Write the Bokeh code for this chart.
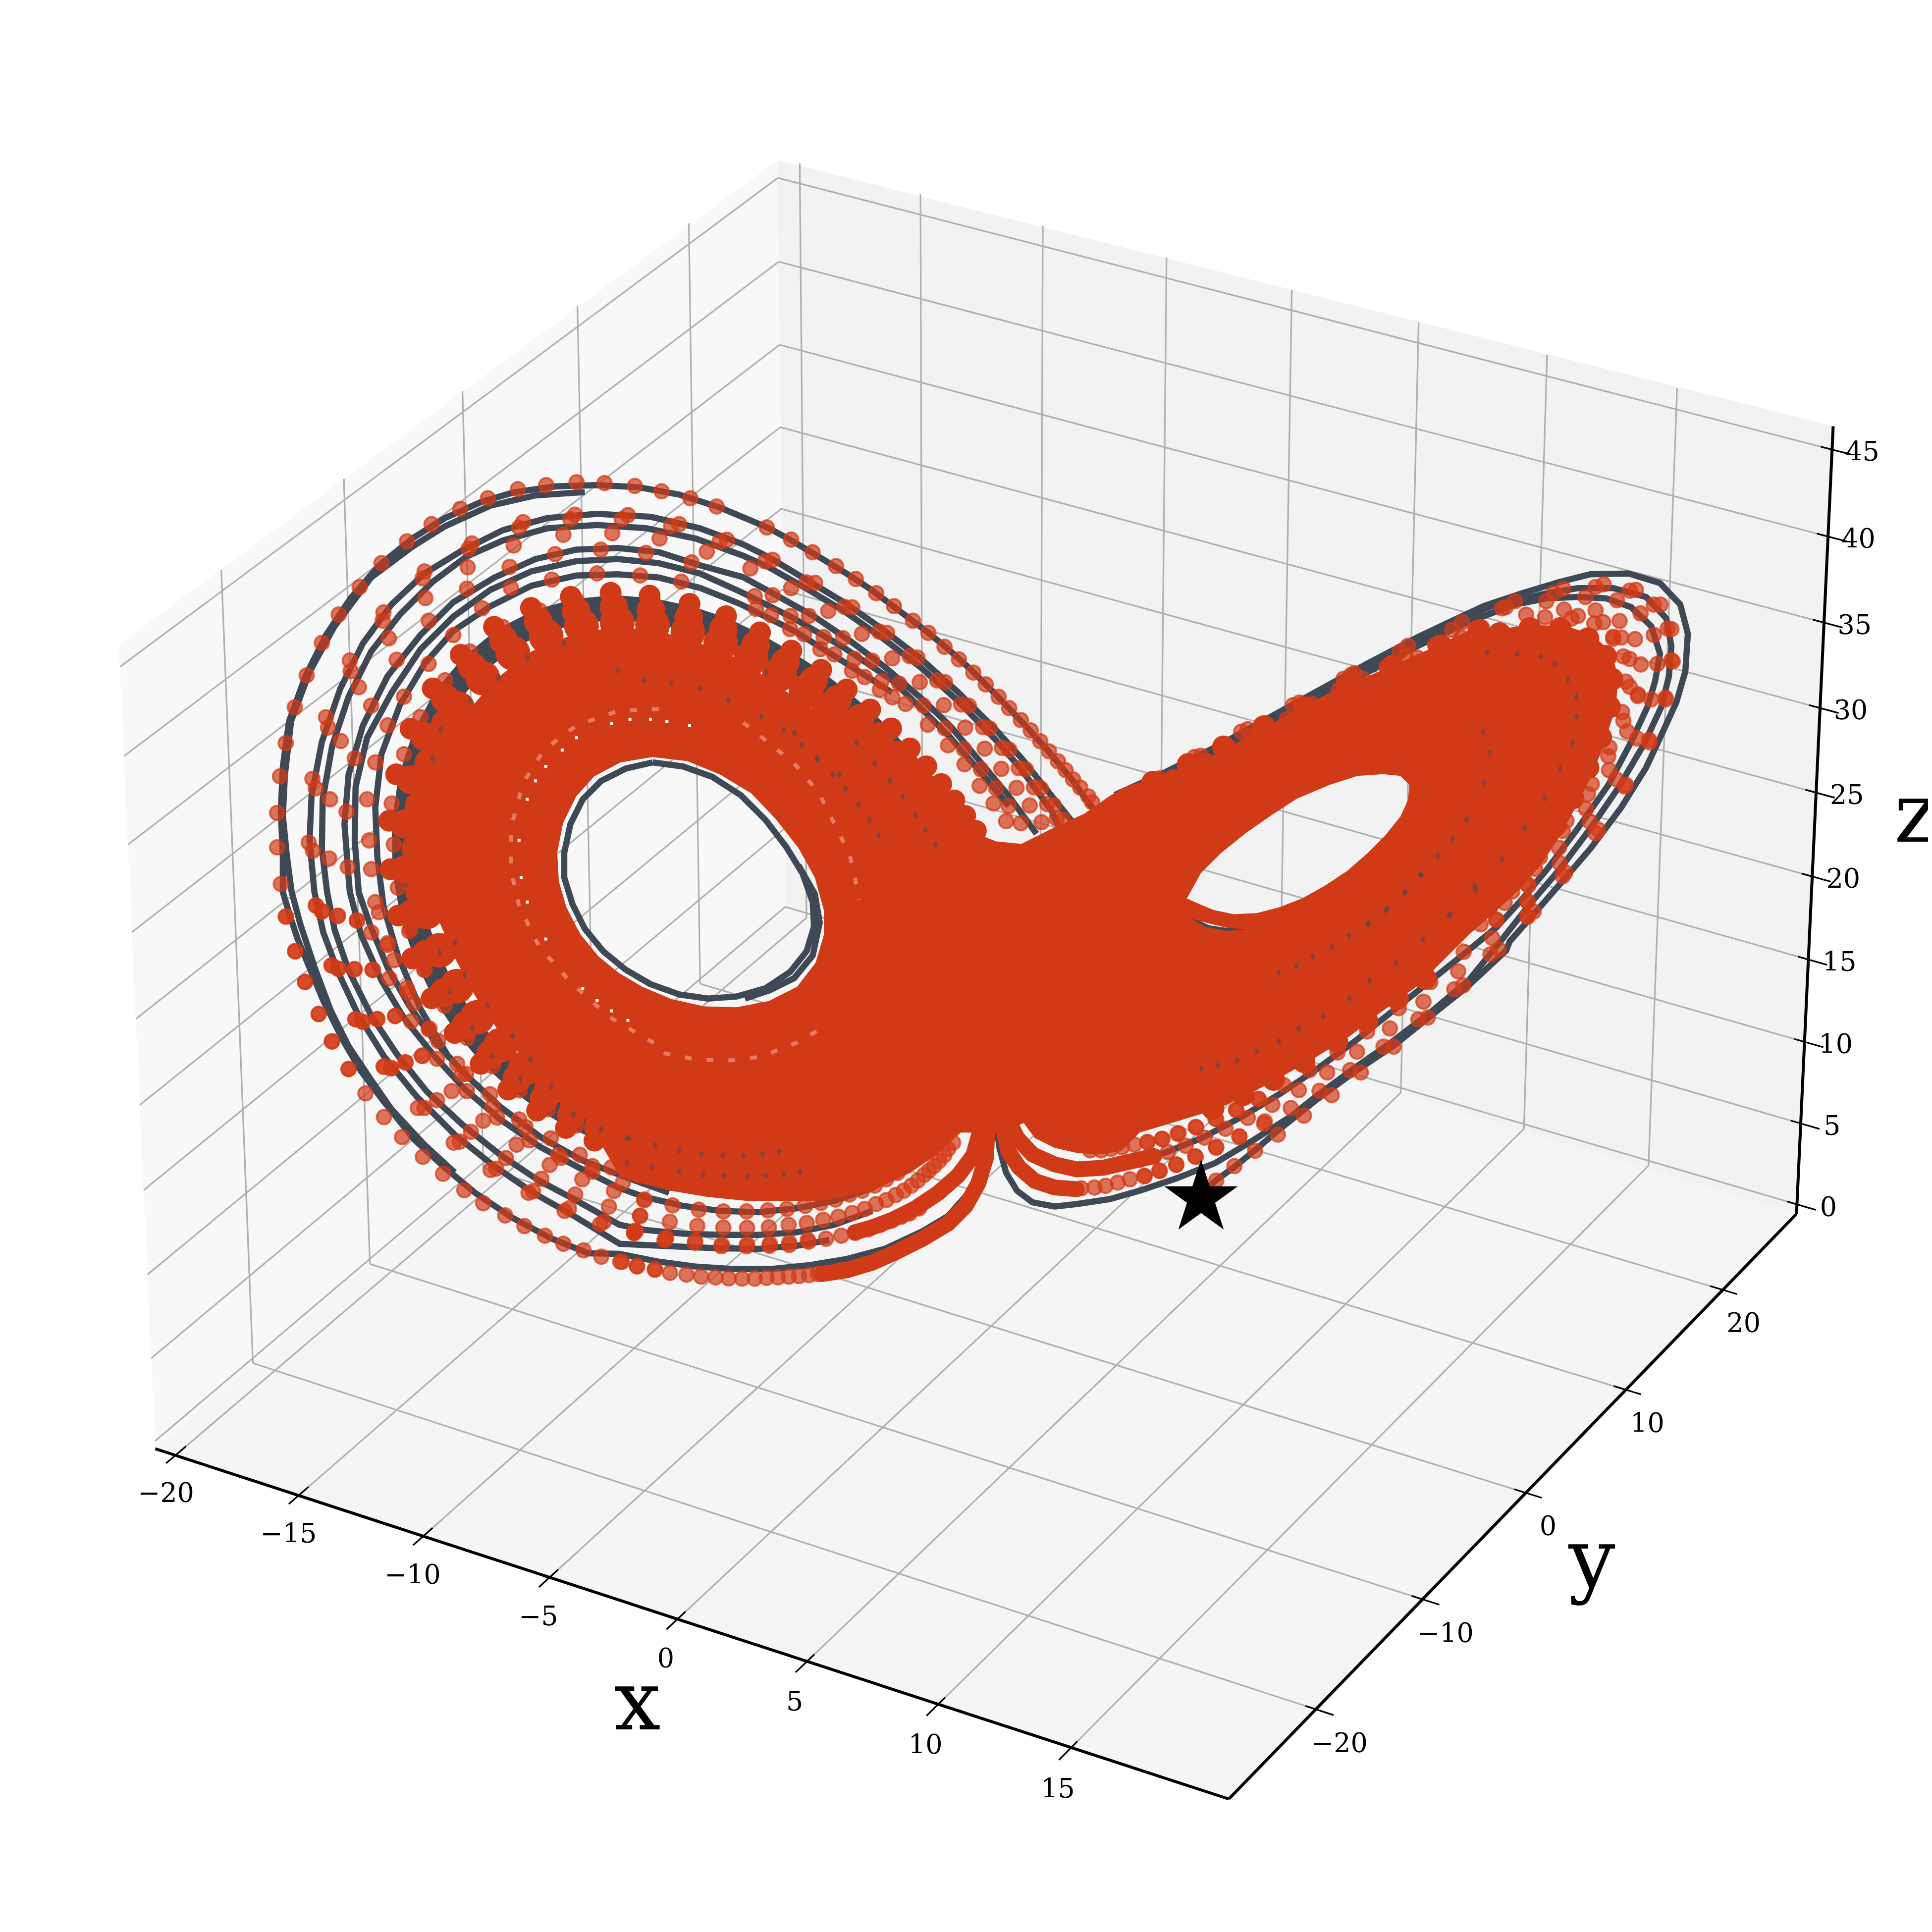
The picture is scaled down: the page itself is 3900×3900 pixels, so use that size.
import numpy as np
from bokeh.plotting import figure
from bokeh.models import Range1d
from bokeh.core.properties import value
from bokeh.embed import file_html
from bokeh.resources import INLINE

# ---- axis content ----
x_ticks = [-20, -15, -10, -5, 0, 5, 10, 15]
y_ticks = [-20, -10, 0, 10, 20]
z_ticks = [0, 5, 10, 15, 20, 25, 30, 35, 40, 45]
x_lim = (-20.92, 20.9)
y_lim = (-28.1, 28.2)
z_lim = (-0.3, 46.2)
axis_titles = ["x", "y", "z"]

# the seven visible corners of the 3D box as seen on the picture: (cube coords) -> (u, v)
box_corners = [((0, 0, 0), (313, 2924)), ((1, 0, 0), (2480, 3631)), ((1, 1, 0), (3626, 2450)),
               ((0, 1, 0), (1586, 1830)), ((0, 0, 1), (239, 1301)), ((0, 1, 1), (1569, 323)),
               ((1, 1, 1), (3700, 860))]

V1 = (500, 900, 1.206, 1.206)
V6 = (1950, 2200, 2.24, 3.0)
V7 = (550, 1800, 1.96, 1.96)
V8 = (1250, 2000, 1.96, 1.96)
V9 = (2700, 1100, 1.96, 1.96)
V10 = (2300, 1750, 1.96, 1.96)
V11 = (1500, 1050, 1.96, 1.96)
V12 = (2250, 1150, 1.96, 1.96)

def pts(view, seq):
    ox, oy, sx, sy = view
    return [(ox + a / sx, oy + b / sy) for a, b in seq]

# dark trajectory, left wing
line_l1 = (pts(V11, [(1420,1180),(1360,1110),(1300,1025),(1200,905),(1100,795),(1000,690),(900,590),(800,500),(700,420),(600,345),(500,270),(400,205),(300,145),(200,85),(100,30)])
  + pts(V1, [(1150,150),(1050,118),(950,100),(850,95),(750,98),(650,112),(570,135),(480,175),(400,225),(320,290),(250,370),(190,460),(140,560),(100,670),(85,780),(80,890),(85,1000)])
  + pts(V7, [(40,0),(70,100),(100,190),(150,310),(200,430),(280,590),(350,710),(440,830),(560,980),(680,1090),(800,1190),(950,1290),(1100,1370),(1250,1430)])
  + pts(V8, [(0,1040),(150,1070),(300,1090),(450,1100),(600,1100),(750,1085),(900,1060),(1050,1020),(1200,950),(1300,890),(1380,800)]))
line_l1b = (pts(V1, [(820,112),(700,120),(590,145),(480,195),(400,245),(300,320),(210,440),(150,550),(105,670),(90,800),(85,900),(95,1000)])
  + pts(V7, [(75,0),(110,130),(170,310),(230,470),(300,610),(380,730),(470,860),(600,1000),(720,1110)]))
line_l2 = (pts(V11, [(1330,1230),(1300,1190),(1200,1065),(1100,940),(1000,830),(850,680),(700,545),(550,430),(400,325),(250,235),(100,145),(0,95)])
  + pts(V1, [(1100,200),(980,172),(850,165),(730,175),(620,205),(520,255),(430,310),(350,385),(280,480),(225,590),(180,720),(155,850),(150,960)])
  + pts(V7, [(165,0),(200,160),(260,320),(340,490),(440,650),(570,810),(720,960),(870,1080),(1030,1190),(1180,1275)])
  + pts(V8, [(0,1000),(100,1005),(250,1012),(400,1018),(550,1020),(700,1008),(830,985)]))
line_l3 = (pts(V11, [(1260,1240),(1220,1150),(1100,985),(1000,870),(850,715),(700,580),(550,465),(400,360),(250,270),(100,185),(0,140)])
  + pts(V1, [(1090,225),(970,200),(850,192),(730,200),(620,230),(530,270),(450,330),(370,410),(300,500),(245,610),(205,730),(182,860),(180,980)])
  + pts(V7, [(215,0),(245,150),(300,310),(390,490),(490,640),(610,790),(750,920),(900,1040),(1050,1140),(1200,1220)])
  + pts(V8, [(0,925),(100,945),(250,960),(400,965),(550,965),(700,955),(850,925),(1000,870)]))
line_l4 = (pts(V11, [(1160,1240),(1050,1090),(950,970),(820,815),(700,700),(560,580),(420,475),(280,380),(120,290),(0,225)])
  + pts(V1, [(1100,290),(1000,258),(900,248),(800,252),(700,275),(600,320),(500,380),(420,460),(340,560),(280,680),(245,800),(235,920),(245,1050)])
  + pts(V7, [(305,0),(350,170),(430,350),(520,500),(640,650),(760,780),(900,900),(1060,1010),(1210,1090)])
  + pts(V8, [(0,780),(100,815),(250,850),(400,870),(550,875),(700,860),(850,830),(1000,780),(1150,690)]))
line_l5 = (pts(V11, [(1050,1130),(950,1010),(820,860),(700,740),(588,632)])
  + pts(V1, [(1450,490),(1330,420),(1200,355),(1100,310),(1000,285),(900,275),(800,280),(690,305),(590,350),(500,415),(420,495),(350,600),(290,710),(262,830),(260,960),(270,1090)])
  + pts(V7, [(340,0),(385,130),(455,300),(540,450),(640,590),(760,720),(900,850),(1060,970),(1220,1060),(1400,1130),(1568,1190)]))
line_l6 = pts(V1, [(1568,600),(1450,525),(1330,450),(1200,385),(1100,345),(1000,320),(900,312),(800,315),(690,340),(590,390),(500,450),(430,530),(370,630),(325,750),(310,880),(315,1000),(330,1120),(365,1240),(420,1370),(490,1490)])
hole_ring = pts(V1, [(985,770),(1060,780),(1130,805),(1200,850),(1260,910),(1310,975),(1350,1040),(1375,1110),(1378,1170),(1360,1230),(1320,1280),(1260,1320),(1190,1340),(1120,1345),(1050,1335),(980,1310),(920,1275),(865,1230),(820,1175),(790,1115),(770,1050),(770,990),(785,920),(815,860),(860,815),(920,785),(985,770)])
hole_ring_b = pts(V1, [(1340,1020),(1380,1090),(1392,1160),(1375,1240),(1330,1295),(1270,1325),(1210,1345)])

# dark trajectory, right wing
line_r1 = (pts(V12, [(0,890),(200,800),(400,700),(600,590),(800,480),(1000,370),(1200,265)])
  + pts(V9, [(440,305),(580,240),(730,190),(880,145),(1000,115),(1150,112),(1275,150),(1355,235),(1385,350),(1375,500),(1340,620),(1290,730),(1220,880),(1120,1040),(1000,1200),(880,1340),(740,1500),(680,1568)])
  + pts(V10, [(1450,330),(1300,470),(1150,590),(1000,710),(850,810),(700,920),(550,1040),(450,1125),(370,1190),(300,1240),(243,1295)]))
line_r2 = (pts(V12, [(0,900),(200,815),(400,715),(600,605),(800,495),(1000,385),(1200,280),(1400,180),(1500,140)])
  + pts(V9, [(830,190),(950,170),(1090,170),(1220,205),(1300,290),(1320,400),(1310,520),(1280,640),(1210,790),(1110,960),(1000,1120),(880,1280),(760,1420),(650,1560)])
  + pts(V10, [(1300,450),(1150,575),(1000,690),(850,795),(700,905),(600,985),(450,1080),(300,1170),(150,1230),(0,1280)])
  + pts(V6, [(650,660),(500,690),(400,705),(300,680),(230,610),(180,500),(150,350),(140,250)]))
line_r3 = (pts(V12, [(0,925),(200,835),(400,735),(600,625),(800,515),(1000,405),(1200,300),(1400,205)])
  + pts(V9, [(700,235),(830,210),(950,205),(1060,210),(1160,245),(1240,320),(1275,430),(1255,540),(1225,640),(1160,780),(1070,950),(950,1120),(830,1280),(730,1400),(630,1510)])
  + pts(V10, [(1300,330),(1150,450),(1000,570),(850,690),(700,800),(550,900),(400,990),(250,1070),(100,1130),(0,1160)]))
line_r4 = pts(V12, [(290,1380),(370,1418),(440,1428),(520,1424)])

# the parts of the cloud where the markers merge to solid
mass_outer = (pts(V1, [(445,1100),(440,1000),(445,900),(465,790),(515,670),(600,570),(690,500),(800,455),(900,440),(1000,450),(1100,480),(1200,520),(1300,590),(1400,660),(1500,730),(1568,790)])
  + pts(V11, [(700,1090),(800,1150),(900,1230),(1000,1270),(1100,1280),(1220,1220),(1350,1160),(1450,1090),(1520,1050)])
  + pts(V12, [(130,830),(240,790),(400,728),(570,635),(700,565),(860,480),(1050,400),(1230,320),(1400,240)])
  + pts(V9, [(600,340),(750,315),(900,320),(1000,350),(1080,420),(1110,520),(1100,640),(1050,800),(1000,920),(950,1020),(880,1150),(800,1270),(700,1380),(600,1470),(520,1540)])
  + pts(V10, [(1200,370),(1100,470),(960,570),(830,670),(700,750),(560,830),(430,900),(300,960),(200,990),(100,1020),(0,1050)])
  + pts(V6, [(700,370),(600,390),(500,380),(400,350),(310,290),(260,200)])
  + pts(V8, [(1495,560),(1420,560),(1350,560),(1250,650),(1150,720),(1000,790),(800,830),(650,830),(500,830),(350,815),(200,790),(80,760),(0,730)])
  + pts(V7, [(1200,830),(1050,710),(900,560),(800,410),(720,260),(660,120)]))
mass_hole_left = pts(V1, [(985,757),(1070,767),(1150,800),(1225,845),(1285,908),(1340,978),(1380,1050),(1402,1130),(1402,1190),(1382,1258),(1337,1316),(1268,1351),(1190,1366),(1110,1364),(1030,1346),(960,1316),(902,1282),(853,1242),(809,1188),(775,1122),(757,1060),(753,990),(767,918),(799,853),(843,804),(907,770)])
mass_hole_right = pts(V12, [(285,1300),(340,1200),(420,1120),(520,1040),(620,970),(720,905),(850,850),(960,815),(1060,808),(1130,815),(1165,850),(1160,910),(1130,975),(1070,1050),(1000,1120),(920,1190),(830,1250),(740,1300),(650,1335),(560,1358),(470,1362),(390,1345),(330,1320)])
mass_sliver = pts(V12, [(300,1380),(360,1412),(440,1428),(520,1424),(440,1415),(370,1398)])

# strands of merged markers near the centre
strand_tube = pts(V8, [(1460,400),(1455,560),(1450,660),(1420,760),(1370,850),(1300,920),(1200,980),(1100,1030),(1000,1075),(900,1105),(800,1120)])
strand_left = pts(V8, [(1425,500),(1425,560),(1400,650),(1340,730),(1260,800),(1170,860),(1080,905),(1000,935),(930,955)])
strand_right_a = pts(V6, [(170,150),(170,250),(190,370),(240,470),(310,550),(400,590),(500,600)])
strand_right_b = pts(V6, [(180,100),(180,150),(230,290),(300,390),(400,450),(500,480),(620,470),(750,430),(850,400)])

# columns of strongly overlapping markers in the left wing: three rows
row_outer = (pts(V11, [(920,1228),(878,1169),(835,1108),(783,1043),(724,973),(659,902),(585,823),(502,748),(409,669),(308,591),(190,515),(66,443)])
  + pts(V1, [(1164,414),(1075,384),(978,364),(883,357),(786,367),(689,394),(599,440),(518,508),(450,590),(396,688),(361,799),(344,912),(347,1030),(366,1143)])
  + pts(V7, [(552,263),(629,421),(720,558),(823,680),(932,782),(1046,865),(1160,934),(1273,984),(1381,1024),(1486,1056)])
  + pts(V8, [(230,715),(330,735),(420,745),(510,745),(590,740),(665,730),(735,715),(800,695),(865,670)]))
row_middle = (pts(V11, [(858,1238),(819,1182),(778,1124),(728,1063),(673,996),(611,929),(541,854),(462,783),(373,708),(278,634),(166,562),(48,494)])
  + pts(V1, [(1157,447),(1073,419),(981,400),(891,393),(799,402),(707,428),(622,472),(545,536),(480,614),(430,707),(396,812),(380,920),(382,1031),(400,1138)])
  + pts(V7, [(606,247),(678,397),(765,527),(862,643),(966,739),(1074,818),(1182,883),(1289,931),(1392,969),(1491,1000)]))
row_inner = (pts(V11, [(797,1249),(760,1196),(721,1141),(674,1083),(622,1020),(563,956),(497,886),(422,818),(338,747),(248,678),(143,609),(31,545)])
  + pts(V1, [(1151,481),(1071,454),(985,436),(899,430),(812,438),(726,463),(645,504),(572,565),(511,639),(487,680),(463,726),(447,775),(432,826),(424,878),(416,927),(417,980),(418,1033),(426,1085),(435,1134)])
  + pts(V7, [(660,231),(728,373),(810,496),(902,606),(1000,697),(1103,771),(1205,833),(1306,878),(1403,914),(1497,943)]))
cluster_right = (pts(V9, [(640,350),(760,330),(880,330),(990,370),(1060,440),(1085,530),(1075,640),(1040,760),(990,880),(930,1000),(860,1110),(780,1220),(690,1330),(590,1430)])
  + pts(V10, [(1130,440),(1020,520),(900,610),(780,690),(650,770),(530,840),(410,900),(290,955)])
  + pts(V12, [(150,840),(290,770),(430,700),(590,620),(750,545),(920,460),(1100,380),(1290,300),(1440,240)]))

# thin paler rings in the solid part, left wing
pale_ring = (pts(V1, [(1000,640),(900,645),(800,680),(720,740),(670,820),(640,930),(640,1030),(660,1120),(710,1220),(790,1310),(880,1390),(1000,1460)])
  + pts(V8, [(170,245),(300,270),(430,275),(560,260),(700,205),(830,130)]))
pale_ring_b = pts(V11, [(0,800),(100,880),(200,960),(300,1080),(360,1200),(420,1320),(460,1500)])

# dark slivers between marker columns
dark_flecks = (pts(V8, [(40,580),(140,610),(235,630),(325,645),(410,650),(490,650),(565,645),(630,635),(30,680),(130,695),(235,710),(330,725),(415,730),(505,735),(580,730),(650,725),(715,715)])
  + pts(V7, [(720,200),(760,330),(850,450),(950,570),(1020,660),(1100,770),(1190,880),(1300,940),(1400,975),(660,240),(700,395),(790,540),(870,650),(980,740)])
  + pts(V1, [(900,545),(965,570),(1030,575),(1100,590),(1170,620),(1250,660),(1330,700),(1385,760),(1440,800),(610,565),(680,515),(770,480),(540,620),(470,690),(450,760)])
  + pts(V11, [(90,600),(160,830),(230,890),(295,945),(355,1005),(405,1065),(455,1125),(500,1185),(535,1245),(450,880),(520,960),(580,1030),(630,1095),(680,1165),(720,1225),(760,1285)])
  + pts(V9, [(590,425),(710,430),(805,440),(860,470),(910,530),(945,600),(945,680),(930,780),(880,885),(820,1000),(740,1120),(650,1240),(540,1350),(440,1465),(575,740),(600,820),(580,940),(510,1085),(455,1160),(395,1230),(330,1305),(265,1375),(190,1445),(120,1500)])
  + pts(V10, [(1330,90),(1230,185),(1120,285),(1015,380),(910,450),(830,520),(725,590),(630,640),(550,690),(465,725),(385,765),(310,785),(245,800),(1110,30),(1050,100),(980,165),(905,220),(830,270),(760,315),(685,355),(620,390),(550,420)]))
white_specks = pts(V1, [(930,665),(980,665),(1020,670),(1075,680),(885,675),(800,710),(765,740),(725,780),(700,815),(680,860),(660,960),(665,1050),(680,1110),(725,1200),(815,1320),(850,1350),(885,1375),(925,1398)])

# single markers, left wing
ring_a = (pts(V1, [(800,88),(868,90),(942,97),(1007,110),(1077,127),(1141,147),(657,105),(726,95),(584,127),(517,153),(447,190),(387,232),(325,285),(272,343),(221,410),(180,479),(143,558),(114,636),(92,723),(78,804),(71,893),(71,977),(80,1066),(92,1145),(115,1229),(139,1304),(172,1383),(204,1449),(245,1517)])
  + pts(V11, [(93,28),(189,76),(274,126),(367,181),(445,232),(526,288),(596,339),(671,397),(732,445),(796,500),(853,550),(910,602),(959,649),(1010,698),(1052,743),(1098,790),(1137,831),(1175,874),(1210,914),(1245,953),(1275,988),(1305,1025),(1333,1057),(1365,1092),(1380,1115)])
  + pts(V7, [(53,98),(89,236),(128,357),(182,482),(235,592),(300,700),(367,797),(440,891),(512,970),(594,1048),(674,1115),(758,1180),(833,1232),(920,1280),(996,1322),(1077,1360),(1150,1392),(1230,1418),(1300,1443),(1375,1463),(1441,1480),(1512,1493)])
  + pts(V8, [(10,1072),(70,1090),(140,1103),(200,1115),(265,1122),(323,1130),(380,1133),(432,1137),(485,1138),(535,1138),(582,1135),(627,1133),(670,1130),(710,1128),(750,1124),(785,1120),(820,1115),(855,1110),(885,1103),(915,1098),(945,1090),(970,1082),(995,1075)]))
ring_b = (pts(V1, [(796,167),(925,168),(1050,190),(1166,228),(785,178),(910,178),(1030,195),(1148,233),(670,185),(545,237),(430,305),(330,405),(248,522),(190,660),(157,810),(148,965),(165,1118),(205,1265),(262,1395),(330,1510),(660,198),(537,250),(425,322),(328,425),(250,548),(195,685),(165,833),(158,985),(180,1132),(220,1272),(280,1402),(348,1515)])
  + pts(V11, [(116,156),(86,162),(284,247),(250,245),(431,344),(400,342),(569,445),(537,440),(689,543),(658,537),(798,640),(767,633),(892,733),(862,728),(975,823),(948,818),(1052,907),(1023,900),(1118,985),(1090,980),(1177,1060),(1150,1056),(1228,1127),(1202,1122),(1265,1185),(1240,1180)])
  + pts(V7, [(172,55),(195,78),(232,290),(260,305),(327,504),(353,512),(441,693),(470,697),(574,855),(600,855),(716,992),(740,988),(862,1100),(884,1095),(1012,1190),(1030,1185),(1155,1262),(1172,1252),(1295,1315),(1310,1305),(1430,1350),(1437,1342),(1550,1378)])
  + pts(V8, [(58,957),(182,983),(298,996),(403,1010),(503,1010),(594,1008),(672,1005),(748,992),(817,980),(878,968),(933,957),(984,943),(1032,925),(1078,908),(1115,893),(1148,880),(1185,860),(62,948),(185,975),(300,990),(405,1003),(505,1002),(595,1000),(672,995),(745,985)]))
ring_c = (pts(V1, [(768,216),(887,212),(1002,225),(1117,257),(647,242),(535,295),(432,370),(343,468),(270,587),(226,718),(200,860),(198,1004),(218,1144),(260,1274),(315,1395),(383,1500)])
  + pts(V11, [(28,190),(189,268),(336,358),(469,449),(589,546),(698,640),(793,731),(878,820),(955,903),(1021,983),(1081,1058),(1133,1128),(1180,1194)])
  + pts(V7, [(259,94),(323,305),(414,503),(526,675),(650,824),(784,949),(923,1053),(1063,1135),(1197,1197),(1330,1245),(1453,1281)])
  + pts(V8, [(82,890),(199,913),(308,929),(411,936),(505,937),(591,935),(669,925),(741,918),(806,905),(866,893),(921,878),(971,862),(1015,843),(1056,827),(1093,807),(1125,790),(1155,770),(1180,750),(1205,728),(1225,710),(1245,692),(1265,672),(1285,650),(1300,625),(1320,600)]))
ring_d = (pts(V1, [(859,252),(748,263),(637,294),(533,347),(440,425),(362,520),(300,632),(260,760),(240,890),(243,1025),(265,1155),(303,1275),(358,1388),(425,1485),(969,260),(1080,283)])
  + pts(V11, [(116,296),(259,378),(394,466),(510,555),(617,646),(713,733),(798,823),(873,905),(940,985),(1000,1060),(1050,1130),(1098,1198)])
  + pts(V7, [(333,112),(397,308),(485,490),(590,648),(708,788),(833,905),(965,1000),(1096,1080),(1225,1137),(1350,1183),(1470,1220)])
  + pts(V8, [(99,825),(210,848),(314,865),(411,872),(503,872),(587,868),(663,862),(735,850),(797,838),(855,825),(910,805),(960,790),(1010,770),(1055,745),(1100,720)]))
ring_e = (pts(V11, [(45,300),(187,378),(318,462),(440,548),(547,636),(642,726),(730,808),(810,890),(875,965),(935,1050),(990,1120),(1040,1190)])
  + pts(V7, [(390,160),(462,342),(548,512),(650,660),(768,788),(888,893),(1016,983),(1140,1052),(1265,1107),(1385,1150)]))
ring_f = (pts(V1, [(640,345),(740,325),(850,310),(955,315),(1055,330),(570,395),(500,460),(440,530),(380,610),(340,680),(310,770),(290,860),(295,960),(300,1030),(310,1110),(340,1210),(390,1330),(440,1420),(520,1530)])
  + pts(V11, [(50,350),(110,375),(185,430),(240,450),(305,510),(360,530),(430,595),(480,620),(540,670),(590,700)])
  + pts(V7, [(420,80),(455,210),(480,270),(530,380),(560,440),(620,540),(655,590),(730,680),(765,720),(860,800),(870,850),(975,900),(1000,930),(1100,975),(1130,1040),(1215,1040),(1265,1085),(1340,1090),(1445,1120)]))
ring_g = (pts(V1, [(800,375),(890,370),(985,375),(1075,390),(710,400),(620,440),(540,500),(480,570),(420,660),(380,750),(350,870),(355,970),(365,1075),(395,1175),(430,1275)])
  + pts(V7, [(540,155),(600,308),(680,450),(770,578),(870,690),(978,785),(1090,860),(1200,925),(1310,975)]))

# single markers, right wing
ring_r_a = (pts(V12, [(175,825),(150,830),(340,735),(315,740),(525,630),(500,640),(730,525),(705,535),(935,415),(905,430)])
  + pts(V9, [(65,507),(245,423),(278,398),(452,335),(492,305),(650,250),(700,222),(855,190),(892,172),(1020,165),(1052,155),(1155,180),(1180,177),(1250,235),(1277,235),(1305,330),(1320,332),(1320,455),(1325,460),(1297,603),(1297,610),(1232,770),(1233,780),(1140,948),(1135,955),(1030,1125),(1020,1140),(900,1295),(890,1310),(775,1450),(750,1470)])
  + pts(V10, [(1420,325),(1388,345),(1280,468),(1245,483),(1140,595),(1103,602),(1005,710),(965,710),(875,812),(833,803),(760,902),(712,885),(650,983),(598,953),(547,1058),(457,1122),(375,1183),(303,1240)]))
ring_r_b = (pts(V9, [(980,205),(825,222),(665,245),(1105,218),(1198,270),(1250,355),(1264,470),(1240,610),(1185,765),(1100,925),(997,1093),(878,1258),(750,1410)])
  + pts(V10, [(1395,280),(1260,412),(1123,532),(990,638),(860,730),(742,812),(630,882),(525,940),(428,992),(340,1035),(257,1070),(182,1102),(112,1127),(50,1145),(0,1158)]))
ring_r_c = (pts(V9, [(1020,258),(1115,300),(1176,372),(1199,472),(1187,597),(1145,737),(1073,890),(982,1043),(875,1197),(755,1345),(627,1483)])
  + pts(V10, [(1412,208),(1282,335),(1150,455),(1025,558),(900,650),(783,733),(672,803),(570,862),(472,917),(383,960),(300,995),(222,1028),(150,1055),(90,1075),(30,1088)]))
ring_r_d = (pts(V9, [(895,255),(950,280),(1050,305),(1122,365),(1090,362),(1155,450),(1130,440),(1188,590),(1155,560),(1140,540),(1125,660),(1130,695),(1075,800),(1070,835),(1005,945),(990,985),(905,1090),(890,1130),(800,1235),(780,1280),(690,1370),(660,1415),(565,1500),(745,275),(820,285),(925,290),(1015,310),(1090,370),(570,325),(385,395),(195,480),(490,365),(315,445)])
  + pts(V12, [(1075,385),(885,475),(680,590),(450,700),(270,810),(1270,300),(1150,340),(980,430),(780,530),(560,650),(360,755),(230,820)])
  + pts(V10, [(492,1015),(395,1067),(303,1110),(222,1147),(145,1178),(78,1200),(20,1222),(1535,70),(1535,135),(1535,195)])
  + pts(V6, [(520,595),(580,590),(630,580),(685,560),(740,540),(805,520),(875,490),(950,450),(1035,400),(1130,345),(1235,280),(1350,190),(560,365),(610,365),(655,355),(705,345),(760,330),(820,315),(885,295),(960,260),(1040,225),(1130,175),(1220,120),(1320,55)]))

start_point = pts(V10, [(243, 1310)])

# ---- projection through the box ----
A = []
for (cx, cy, cz), (u0, v0) in box_corners:
    u, v = u0 / 1000.0, v0 / 1000.0
    A.append([cx, cy, cz, 1, 0, 0, 0, 0, -u * cx, -u * cy, -u * cz, -u])
    A.append([0, 0, 0, 0, cx, cy, cz, 1, -v * cx, -v * cy, -v * cz, -v])
P = np.linalg.svd(np.array(A, float))[2][-1].reshape(3, 4)

def cube(cx, cy, cz):
    q = P @ np.array([cx, cy, cz, 1.0])
    return 1000.0 * q[0] / q[2], 1000.0 * q[1] / q[2]

corner = {c: uv for c, uv in box_corners}

def norm(t, lim):
    return (t - lim[0]) / (lim[1] - lim[0])

p = figure(width=3892, height=3892, x_range=Range1d(0, 3892), y_range=Range1d(3892, 0),
           output_backend="svg", toolbar_location=None, min_border=0,
           x_axis_location=None, y_axis_location=None, outline_line_color=None,
           background_fill_color="white", border_fill_color="white")
p.xgrid.visible = False
p.ygrid.visible = False

def seg(a, b, **kw):
    A_, B_ = cube(*a), cube(*b)
    p.line([A_[0], B_[0]], [A_[1], B_[1]], **kw)

def pane(corners, color):
    q = [corner[c] for c in corners]
    p.patch([a for a, _ in q], [b for _, b in q], fill_color=color, line_color=None)

pane([(0,0,0),(0,1,0),(0,1,1),(0,0,1)], "#f8f8f8")
pane([(0,1,0),(1,1,0),(1,1,1),(0,1,1)], "#f2f2f2")
pane([(0,0,0),(1,0,0),(1,1,0),(0,1,0)], "#f5f5f5")

GRID = dict(line_color="#b0b0b0", line_width=3.3)
TICK = dict(line_color="black", line_width=3.3)
AXIS = dict(line_color="black", line_width=6)
for t in x_ticks:
    s = norm(t, x_lim)
    seg((s,0,0), (s,1,0), **GRID)
    seg((s,1,0), (s,1,1), **GRID)
for t in y_ticks:
    s = norm(t, y_lim)
    seg((0,s,0), (1,s,0), **GRID)
    seg((0,s,0), (0,s,1), **GRID)
for t in z_ticks:
    s = norm(t, z_lim)
    seg((0,0,s), (0,1,s), **GRID)
    seg((0,1,s), (1,1,s), **GRID)

# attractor
DARK = "#3f4955"
RED = "#d13a17"
def xy(seq):
    return [a for a, _ in seq], [b for _, b in seq]

for ln in [line_l1, line_l1b, line_l2, line_l3, line_l4, line_l5, line_l6, hole_ring, hole_ring_b,
           line_r1, line_r2, line_r3, line_r4]:
    a_, b_ = xy(ln)
    p.line(a_, b_, line_color=DARK, line_width=12.5, line_join="round")

a_, b_ = xy(row_middle)
p.line(a_, b_, line_color=DARK, line_width=50, line_join="round")

ox, oy = xy(mass_outer)
hl, hly = xy(mass_hole_left)
hr, hry = xy(mass_hole_right)
sl, sly = xy(mass_sliver)
p.multi_polygons(xs=[[[ox, hl, hr, sl]]], ys=[[[oy, hly, hry, sly]]], fill_color=RED, line_color=None)

for st in [strand_tube, strand_left, strand_right_a, strand_right_b]:
    a_, b_ = xy(st)
    p.line(a_, b_, line_color=RED, line_width=32, line_join="round", line_cap="round")

a_, b_ = xy(row_outer)
p.scatter(a_, b_, size=44, marker="circle", fill_color=RED, line_color=None)
a_, b_ = xy(row_middle)
p.scatter(a_, b_, size=58, marker="circle", fill_color=RED, line_color=None)
a_, b_ = xy(row_inner)
p.scatter(a_, b_, size=70, marker="circle", fill_color=RED, line_color=None)
a_, b_ = xy(cluster_right)
p.scatter(a_, b_, size=46, marker="circle", fill_color=RED, line_color=None)

all_dots = (ring_a + ring_b + ring_c + ring_d + ring_e + ring_f + ring_g + ring_r_a + ring_r_b + ring_r_c + ring_r_d)
dx, dy = xy(all_dots)
p.scatter(dx, dy, size=29, marker="circle", fill_color=RED, fill_alpha=0.7, line_color=RED, line_alpha=0.7, line_width=4)

for rg in [pale_ring, pale_ring_b]:
    a_, b_ = xy(rg)
    p.line(a_, b_, line_color="#e27c63", line_width=8, line_dash="14 30")
a_, b_ = xy(dark_flecks)
p.scatter(a_, b_, size=16, marker="diamond", fill_color=DARK, fill_alpha=0.5, line_color=None)
a_, b_ = xy(white_specks)
p.scatter(a_, b_, size=6, marker="square", fill_color="white", line_color=None)

# start marker
sx0, sy0 = xy(start_point)
p.scatter(sx0, sy0, marker="star", size=156, fill_color="black", line_color=None)

# axes on top
def edge(a, b):
    p.line([corner[a][0], corner[b][0]], [corner[a][1], corner[b][1]], **AXIS)
edge((0,0,0), (1,0,0))
edge((1,0,0), (1,1,0))
edge((1,1,0), (1,1,1))
FONT = value("DejaVu Serif")
def label(x, y, txt, size):
    p.text([x], [y], text=[txt], text_font=FONT, text_font_size=value(size), text_align="center",
           text_baseline="middle", text_color="black")

def fmt(t):
    return ("\u2212" + str(-t)) if t < 0 else str(t)

for t in x_ticks:
    s = norm(t, x_lim)
    seg((s,0.012,0), (s,-0.017,0), **TICK)
    u, v = cube(s, 0, 0)
    label(u - 24, v + 78, fmt(t), "54px")
for t in y_ticks:
    s = norm(t, y_lim)
    seg((0.99,s,0), (1.015,s,0), **TICK)
    u, v = cube(1, s, 0)
    label(u + 46, v + 66, fmt(t), "54px")
for t in z_ticks:
    s = norm(t, z_lim)
    seg((0.99,1,s), (1.017,1,s), **TICK)
    u, v = cube(1, 1, s)
    label(u + 62, v + 3, fmt(t), "54px")

label(1286, 3432, axis_titles[0], "167px")
label(3213, 3145, axis_titles[1], "167px")
label(3867, 1640, axis_titles[2], "167px")

open("out.html", "w").write(file_html(p, INLINE))
